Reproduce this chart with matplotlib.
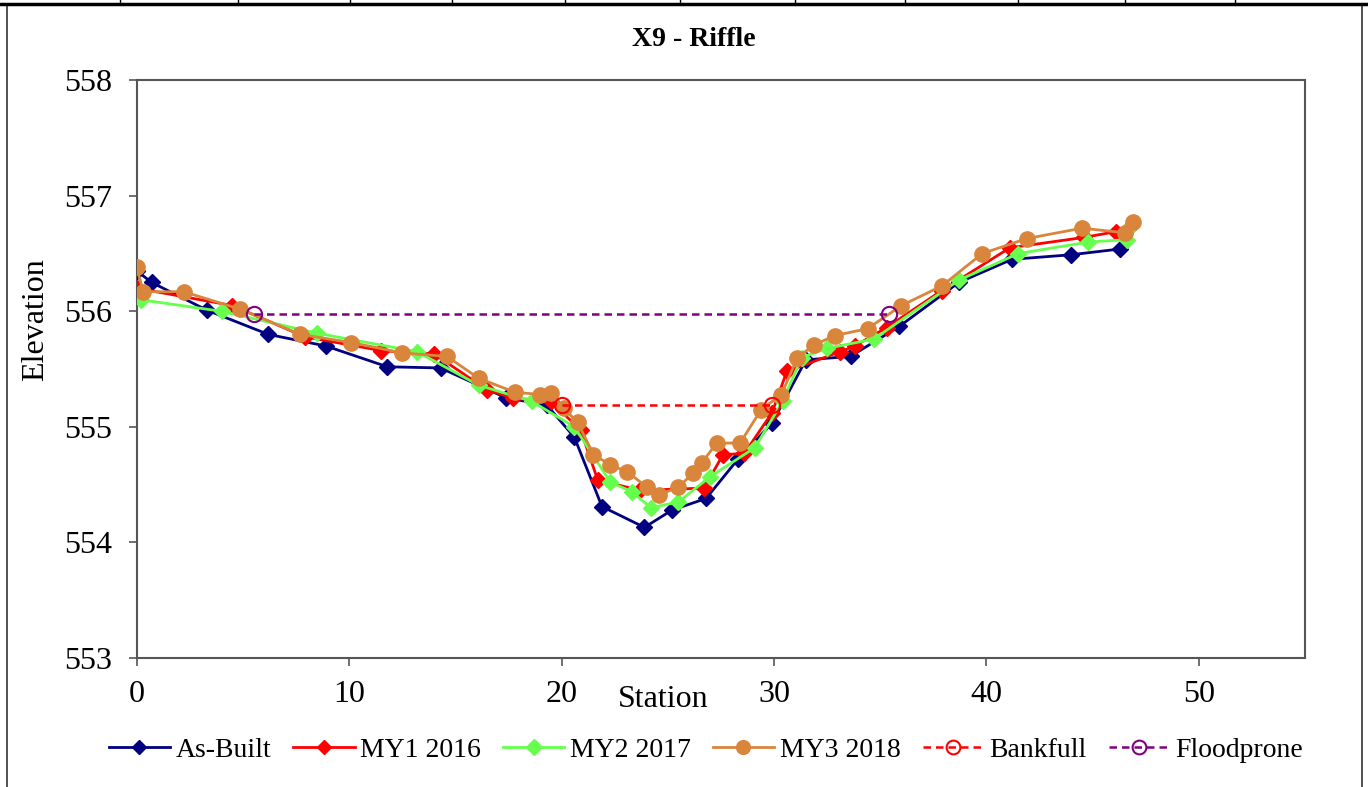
import matplotlib.pyplot as plt
from matplotlib.lines import Line2D

plt.rcParams['font.family'] = ['Liberation Serif', 'DejaVu Serif']

# cross-section survey data (station, elevation)
asbuilt_x = [0, 0.7, 3.3, 6.2, 8.9, 11.8, 14.3, 17.4, 19.3, 20.6, 21.9, 23.9, 25.2, 26.8, 28.3, 29.9,
             31.5, 33.6, 35.9, 38.7, 41.2, 44.0, 46.3]
asbuilt_y = [556.35, 556.25, 556.01, 555.80, 555.70, 555.52, 555.51, 555.25, 555.19, 554.91, 554.31,
             554.13, 554.28, 554.38, 554.72, 555.03, 555.58, 555.61, 555.87, 556.25, 556.45, 556.49, 556.54]

my1_x = [0, 4.5, 7.9, 11.5, 14.0, 16.5, 17.7, 19.5, 20.9, 21.7, 23.7, 26.7, 27.6, 28.6, 29.9, 30.6,
         33.1, 33.8, 35.3, 37.9, 41.1, 44.6, 46.1, 46.8]
my1_y = [556.2, 556.05, 555.78, 555.66, 555.63, 555.32, 555.25, 555.22, 554.97, 554.54, 554.45, 554.47,
         554.76, 554.77, 555.12, 555.48, 555.65, 555.70, 555.86, 556.18, 556.55, 556.64, 556.69, 556.74]

my2_x = [0.2, 4.0, 8.5, 13.2, 16.1, 18.6, 20.6, 22.3, 23.3, 24.2, 25.5, 27.0, 29.1, 30.4, 31.3, 32.5,
         34.7, 38.7, 41.5, 44.8, 46.6, 46.8]
my2_y = [556.1, 556.0, 555.81, 555.65, 555.36, 555.22, 555.0, 554.52, 554.44, 554.3, 554.35, 554.57,
         554.82, 555.22, 555.6, 555.68, 555.76, 556.27, 556.5, 556.6, 556.62, 556.74]

my3_x = [0, 0.3, 2.2, 4.85, 7.7, 10.1, 12.5, 14.6, 16.1, 17.8, 19.0, 19.5, 20.1, 20.75, 21.5, 22.3, 23.1,
         24.0, 24.6, 25.5, 26.2, 26.6, 27.3, 28.4, 29.4, 30.35, 31.1, 31.9, 32.85, 34.4, 36.0, 37.9,
         39.8, 41.9, 44.5, 46.5, 46.9]
my3_y = [556.38, 556.17, 556.17, 556.02, 555.80, 555.73, 555.64, 555.61, 555.42, 555.30, 555.28, 555.29,
         555.16, 555.04, 554.76, 554.67, 554.61, 554.48, 554.41, 554.48, 554.60, 554.69, 554.86, 554.86,
         555.15, 555.28, 555.60, 555.71, 555.79, 555.85, 556.05, 556.22, 556.50, 556.63, 556.72, 556.68,
         556.77]

bankfull_x = [20.0, 29.9]
bankfull_y = [555.19, 555.19]
floodprone_x = [5.5, 35.4]
floodprone_y = [555.98, 555.98]

fig = plt.figure(figsize=(13.68, 7.87), dpi=100)
ax = fig.add_axes([0.1, 0.164, 0.854, 0.734])

ax.plot(asbuilt_x, asbuilt_y, color='#000080', lw=2, marker='D', ms=8, label='As-Built', zorder=3)
ax.plot(my1_x, my1_y, color='#ff0000', lw=2, marker='D', ms=8, label='MY1 2016', zorder=4)
ax.plot(my2_x, my2_y, color='#66ff4d', lw=2, marker='D', ms=8.5, label='MY2 2017', zorder=5)
ax.plot(my3_x, my3_y, color='#d9853b', lw=2, marker='o', ms=11, label='MY3 2018', zorder=6)
ax.plot(bankfull_x, bankfull_y, color='#ff0000', lw=1.8, ls=(0, (3, 2)), marker='o', ms=11,
        mfc='none', mew=1.5, label='Bankfull', zorder=7)
ax.plot(floodprone_x, floodprone_y, color='#800080', lw=1.8, ls=(0, (3, 2)), marker='o', ms=11,
        mfc='none', mew=1.5, label='Floodprone', zorder=7)

ax.set_xlim(0, 55)
ax.set_ylim(553, 558)
ax.set_xticks([0, 10, 20, 30, 40, 50])
ax.set_yticks([553, 554, 555, 556, 557, 558])
ax.tick_params(labelsize=23, length=6, width=1.2, color='#555555')
ax.tick_params(axis='y', pad=12)
ax.tick_params(axis='x', pad=10)
for s in ax.spines.values():
    s.set_color('#555555')
    s.set_linewidth(1.5)

fig.text(694 / 1368, 1 - 40 / 787, 'X9 - Riffle', fontsize=20, fontweight='bold',
         ha='center', va='center')
ax.set_ylabel('Elevation', fontsize=23)
ax.yaxis.set_label_coords(-0.087, 0.585)
ax.set_xlabel('Station', fontsize=23)
ax.xaxis.set_label_coords((663 - 137) / 1168, -42 / 578)
ax.xaxis.label.set_va('center')
ax.yaxis.label.set_va('center')

ax.legend(loc='center', bbox_to_anchor=(706 / 1368, 1 - 750 / 787), bbox_transform=fig.transFigure,
          ncol=6, frameon=False, fontsize=20, handlelength=2.2, handletextpad=0.2,
          columnspacing=0.8, markerscale=0.9)

# outer border like the worksheet frame
fig.add_artist(Line2D([7 / 1368, 7 / 1368], [0, 1 - 4 / 787], color='#333333', lw=1.2))
fig.add_artist(Line2D([1362 / 1368, 1362 / 1368], [0, 1 - 4 / 787], color='#333333', lw=1.2))
fig.add_artist(Line2D([0, 1], [1 - 4 / 787, 1 - 4 / 787], color='black', lw=2.5))
for px in [120, 238, 350, 452, 565, 680, 795, 905, 1018, 1125, 1235]:
    fig.add_artist(Line2D([px / 1368, px / 1368], [1 - 4 / 787, 1], color='black', lw=1))

fig.savefig('out.png', dpi=100)
